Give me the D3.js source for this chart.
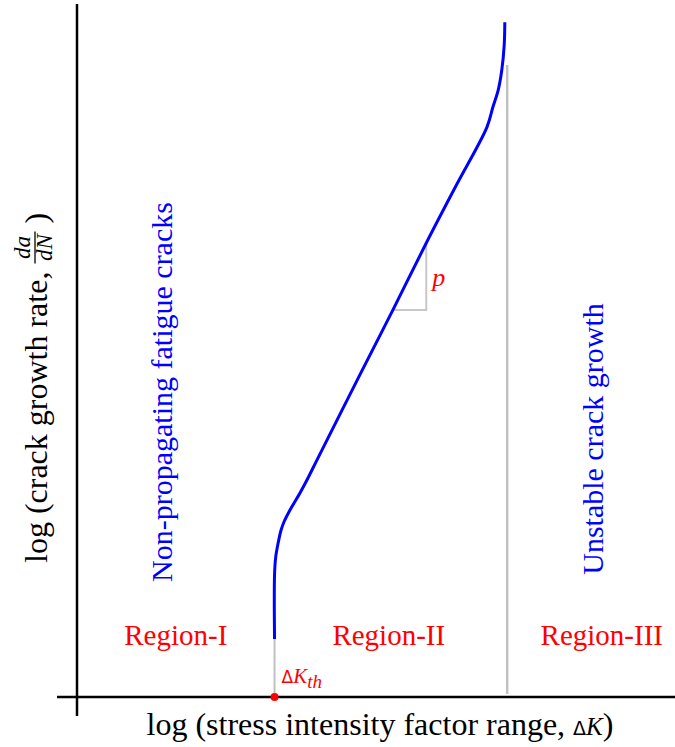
<!DOCTYPE html>
<html>
<head>
<meta charset="utf-8">
<script src="https://cdn.jsdelivr.net/npm/d3@7"></script>
<style>
  body { margin: 0; background: #fff; }
</style>
</head>
<body>
<div id="chart"></div>
<script>
const width = 675;
const height = 747;
const serif = "Liberation Serif";

// crack growth curve (log dK, log da/dN), arbitrary units 0-100
const curveK = [33.2, 33.2, 33.4, 33.8, 34.3, 34.8, 35.8, 37.5, 38.8, 40.3, 47.6, 53.1, 58.7, 63.7, 68.9, 69.9, 70.8, 71.4, 71.8, 71.9];
const curveRate = [8.4, 17.7, 20.3, 22.3, 24.2, 25.4, 27.1, 29.6, 31.7, 34.3, 46.8, 56.1, 65.8, 74.1, 82.6, 85.5, 88.0, 90.9, 94.5, 97.8];

// threshold and region III boundary
const kThreshold = 33.2;
const kCritical = 72.3;
const criticalTop = 91.6;

// slope triangle
const slopeK = [53.1, 58.7];
const slopeRate = [56.1, 65.8];

// region labels
const regionNames = ["Region-I", "Region-II", "Region-III"];
const regionCenters = [16.6, 52.4, 88.2];

const svg = d3.select("#chart")
  .append("svg")
  .attr("width", width)
  .attr("height", height)
  .attr("font-family", serif);

const x = d3.scaleLinear().domain([0, 100]).range([77, 672]);
const y = d3.scaleLinear().domain([0, 100]).range([697, 7]);

// axes
svg.append("line")
  .attr("x1", 57).attr("x2", width)
  .attr("y1", y(0)).attr("y2", y(0))
  .attr("stroke", "#000").attr("stroke-width", 2.5);
svg.append("line")
  .attr("x1", x(0)).attr("x2", x(0))
  .attr("y1", 4).attr("y2", 716)
  .attr("stroke", "#000").attr("stroke-width", 2.5);

// grey guide lines
svg.append("line")
  .attr("x1", x(kThreshold)).attr("x2", x(kThreshold))
  .attr("y1", y(0)).attr("y2", y(curveRate[0]))
  .attr("stroke", "#c0c0c0").attr("stroke-width", 2);
svg.append("line")
  .attr("x1", x(kCritical)).attr("x2", x(kCritical))
  .attr("y1", y(0) - 3).attr("y2", y(criticalTop))
  .attr("stroke", "#c0c0c0").attr("stroke-width", 2.5);

// slope triangle
svg.append("path")
  .attr("d", d3.line()([
    [x(slopeK[0]), y(slopeRate[0])],
    [x(slopeK[1]), y(slopeRate[0])],
    [x(slopeK[1]), y(slopeRate[1])]
  ]))
  .attr("fill", "none")
  .attr("stroke", "#c8c8c8").attr("stroke-width", 2);

// curve
const pts = curveK.map((k, i) => [k, curveRate[i]]);
svg.append("path")
  .datum(pts)
  .attr("d", d3.line().x(d => x(d[0])).y(d => y(d[1])).curve(d3.curveCatmullRom.alpha(0.5)))
  .attr("fill", "none")
  .attr("stroke", "#0000ff")
  .attr("stroke-width", 3);

// threshold dot
svg.append("circle")
  .attr("cx", x(kThreshold)).attr("cy", y(0))
  .attr("r", 4).attr("fill", "#ff0000");

// region labels
svg.selectAll("text.region")
  .data(regionNames)
  .enter()
  .append("text")
  .attr("class", "region")
  .attr("x", (d, i) => x(regionCenters[i]))
  .attr("y", 645)
  .attr("text-anchor", "middle")
  .attr("fill", "#ff0000")
  .attr("font-size", 29)
  .text(d => d);

// dK_th
const th = svg.append("text")
  .attr("x", x(kThreshold) + 7)
  .attr("y", 683)
  .attr("fill", "#ff0000")
  .attr("font-size", 21);
th.append("tspan").attr("font-family", "DejaVu Sans").attr("font-size", 17).text("Δ");
th.append("tspan").attr("font-style", "italic").text("K");
th.append("tspan").attr("font-style", "italic").attr("dy", 5).attr("font-size", 19).text("th");

// slope label
svg.append("text")
  .attr("x", x(slopeK[1]) + 6)
  .attr("y", 286)
  .attr("fill", "#ff0000")
  .attr("font-style", "italic")
  .attr("font-size", 26)
  .text("p");

// blue region notes
svg.append("g")
  .attr("transform", "translate(172,392) rotate(-90)")
  .append("text")
  .attr("text-anchor", "middle")
  .attr("fill", "#0000ff")
  .attr("font-family", "Liberation Serif, serif")
  .attr("font-size", 30)
  .text("Non-propagating fatigue cracks");
svg.append("g")
  .attr("transform", "translate(603,439) rotate(-90)")
  .append("text")
  .attr("text-anchor", "middle")
  .attr("fill", "#0000ff")
  .attr("font-family", "Liberation Serif, serif")
  .attr("font-size", 30)
  .text("Unstable crack growth");

// x label
const xl = svg.append("text")
  .attr("x", 380)
  .attr("y", 735)
  .attr("text-anchor", "middle")
  .attr("font-size", 32);
xl.append("tspan").text("log (stress intensity factor range, ");
xl.append("tspan").attr("font-family", "DejaVu Sans").attr("font-size", 19).text("Δ");
xl.append("tspan").attr("font-style", "italic").attr("font-size", 25).text("K");
xl.append("tspan").text(")");

// y label
const yl = svg.append("g").attr("transform", "translate(47,563) rotate(-90)");
const ylText = yl.append("text")
  .attr("x", 0).attr("y", 0)
  .attr("font-family", "Liberation Serif, serif")
  .attr("font-size", 32)
  .text("log (crack growth rate,");
const lw = ylText.node().getComputedTextLength();
const fx = lw + 24;
yl.append("text")
  .attr("x", fx).attr("y", -17)
  .attr("text-anchor", "middle")
  .attr("font-style", "italic")
  .attr("font-size", 23)
  .text("da");
yl.append("line")
  .attr("x1", fx - 16).attr("x2", fx + 16)
  .attr("y1", -12).attr("y2", -12)
  .attr("stroke", "#000").attr("stroke-width", 1.3);
yl.append("text")
  .attr("x", fx).attr("y", 5)
  .attr("text-anchor", "middle")
  .attr("font-style", "italic")
  .attr("font-size", 23)
  .text("dN");
yl.append("text")
  .attr("x", fx + 24).attr("y", 0)
  .attr("font-size", 32)
  .text(")");
</script>
</body>
</html>
